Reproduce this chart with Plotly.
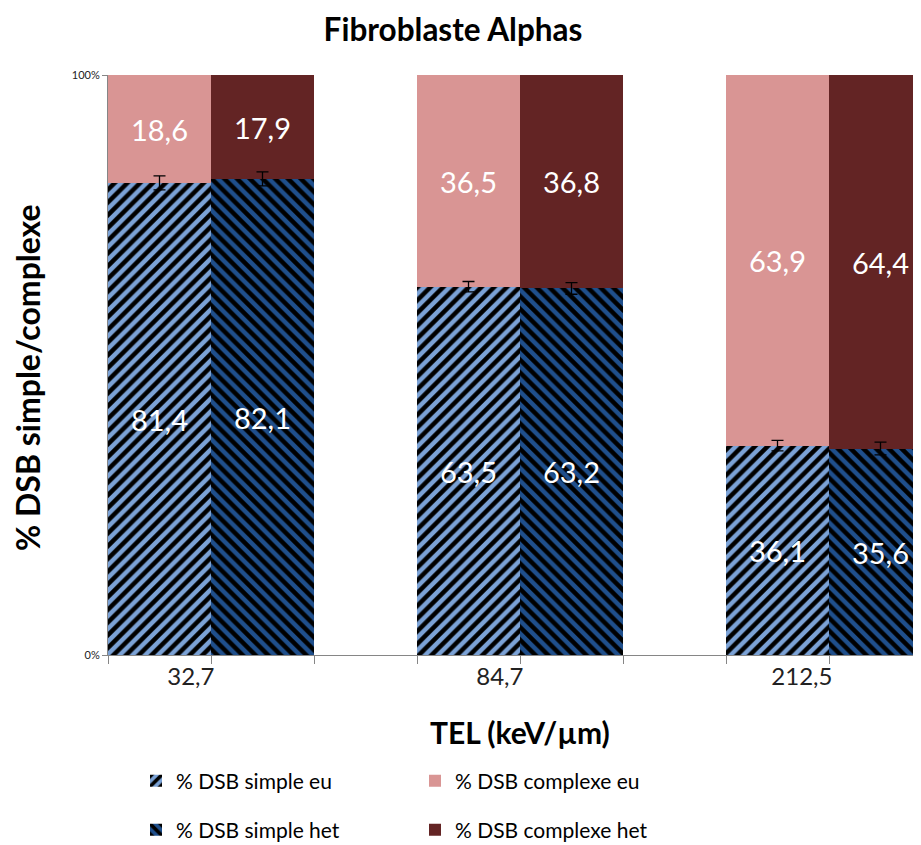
import plotly.graph_objects as go

categories = ["32,7", "84,7", "212,5"]
simple_eu = [81.4, 63.5, 36.1]
simple_het = [82.1, 63.2, 35.6]
complexe_eu = [18.6, 36.5, 63.9]
complexe_het = [17.9, 36.8, 64.4]
err_simple_eu = [1.2, 0.9, 0.9]
err_simple_het = [1.2, 1.0, 1.1]

x_eu = [0, 3, 6]
x_het = [1, 4, 7]
label_pos = [0.5, 3.5, 6.5]
boundaries = [-0.5 + i for i in range(9)]

FONT = "Lato, Open Sans, sans-serif"


def fmt(vals):
    return [f"{v:.1f}".replace(".", ",") for v in vals]


def bar(name, x, y, color, text, legend, shape=None):
    marker = dict(color=color, line=dict(width=0))
    if shape:
        marker["pattern"] = dict(shape=shape, fgcolor="black", bgcolor=color,
                                 size=9, solidity=0.5, fillmode="replace")
    return go.Bar(name=name, x=x, y=y, marker=marker, width=1,
                  text=text, textposition="inside", insidetextanchor="middle",
                  textfont=dict(color="white", size=29, family=FONT),
                  textangle=0, legend=legend)


def errs(x, y, err):
    return go.Scatter(x=x, y=y, mode="markers", marker=dict(size=1, color="rgba(0,0,0,0)"),
                      error_y=dict(type="data", array=err, visible=True,
                                   color="black", thickness=1.3, width=6),
                      showlegend=False, hoverinfo="skip")


fig = go.Figure()
fig.add_trace(bar("% DSB simple eu", x_eu, simple_eu, "#7ba2d6", fmt(simple_eu),
                  "legend", "/"))
fig.add_trace(bar("% DSB complexe eu", x_eu, complexe_eu, "#d99594", fmt(complexe_eu),
                  "legend"))
fig.add_trace(bar("% DSB simple het", x_het, simple_het, "#1f4f8c", fmt(simple_het),
                  "legend2", "\\"))
fig.add_trace(bar("% DSB complexe het", x_het, complexe_het, "#632424", fmt(complexe_het),
                  "legend2"))
fig.add_trace(errs(x_eu, simple_eu, err_simple_eu))
fig.add_trace(errs(x_het, simple_het, err_simple_het))

# the page body has an 8px margin, so positions are offset by 8px
OFF = 8
W, H = 921 - OFF, 845 - OFF
L, R, T = 108 - OFF, 0, 75 - OFF
BOTTOM = 655 - OFF
B = H - BOTTOM
pw = W - L - R
ph = H - T - B


def py(y_img):
    return (BOTTOM - (y_img - OFF)) / ph


def px(x_img):
    return ((x_img - OFF) - L) / pw


legend_common = dict(orientation="h", xanchor="left", yanchor="middle",
                     font=dict(size=21, family=FONT, color="black"),
                     entrywidth=234, entrywidthmode="pixels",
                     bgcolor="rgba(0,0,0,0)", itemclick=False,
                     traceorder="normal")

fig.update_layout(
    width=W, height=H,
    margin=dict(l=L, r=R, t=T, b=B, autoexpand=False),
    barmode="stack", bargap=0,
    plot_bgcolor="white", paper_bgcolor="white",
    showlegend=True,
    title=dict(text="<b>Fibroblaste Alphas</b>", x=(453 - OFF) / W, xref="container",
               xanchor="center", y=1 - (30 - OFF) / H, yref="container", yanchor="middle",
               font=dict(size=31.5, family=FONT, color="black")),
    legend=dict(x=px(136), y=py(781), **legend_common),
    legend2=dict(x=px(136), y=py(830), **legend_common),
    xaxis=dict(range=[-0.5, -0.5 + pw / 103.0], tickmode="array",
               tickvals=label_pos, ticktext=categories, ticks="", showgrid=False,
               ticklabelposition="outside left", ticklabelshift=4, automargin=False,
               showline=True, linecolor="#868686", linewidth=1, zeroline=False,
               tickfont=dict(size=24, family=FONT, color="#222222"),
               minor=dict(tickmode="array", tickvals=boundaries, ticks="outside",
                          ticklen=8, tickcolor="#868686", showgrid=False)),
    yaxis=dict(range=[0, 100], tickmode="array", tickvals=[0, 100],
               ticktext=["0%", "100%"], ticks="outside", ticklen=5,
               tickcolor="#868686", showgrid=False, showline=True, automargin=False,
               linecolor="#868686", linewidth=1, zeroline=False,
               tickfont=dict(size=11, family=FONT, color="#222222")),
    annotations=[
        dict(text="<b>% DSB simple/complexe</b>", xref="paper", yref="paper",
             x=px(27), y=py(378), textangle=-90, showarrow=False,
             xanchor="center", yanchor="middle",
             font=dict(size=32, family=FONT, color="black")),
        dict(text="<b>TEL (keV/µm)</b>", xref="paper", yref="paper",
             x=px(520), y=py(732), showarrow=False,
             xanchor="center", yanchor="middle",
             font=dict(size=30, family=FONT, color="black")),
    ],
)

fig.write_html("out.html")
